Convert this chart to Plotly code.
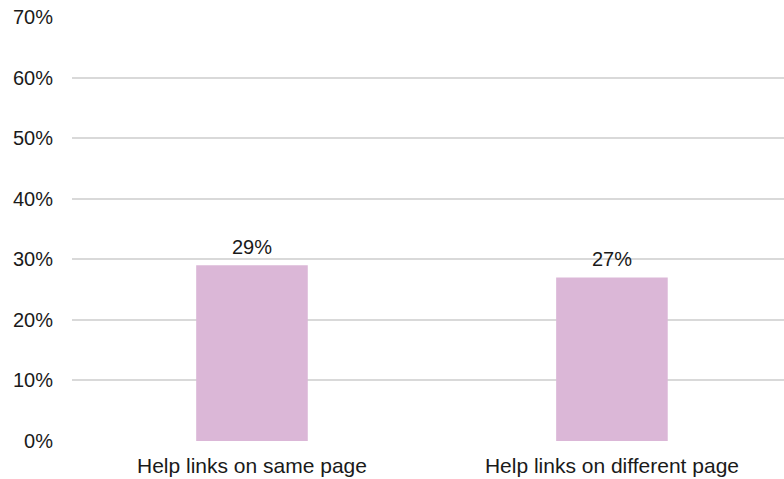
import plotly.graph_objects as go

# Share of participants by help-link placement
categories = ["Help links on same page", "Help links on different page"]
shares = [0.29, 0.27]
tick_values = [0, 0.1, 0.2, 0.3, 0.4, 0.5, 0.6, 0.7]
tick_labels = ["0%", "10%", "20%", "30%", "40%", "50%", "60%", "70%"]

font_family = "Liberation Sans, Arial, sans-serif"
text_color = "#1a1a1a"
positions = list(range(len(categories)))

fig = go.Figure(
    go.Bar(
        x=positions,
        y=shares,
        width=0.31,
        marker=dict(color="#DBB7D7", line=dict(width=0)),
        hoverinfo="skip",
    )
)

# Value labels above each bar, formatted from the bar's own value
for pos, value in zip(positions, shares):
    fig.add_annotation(
        x=pos,
        y=value,
        text=f"{value:.0%}",
        showarrow=False,
        yanchor="bottom",
        yshift=5,
        font=dict(family=font_family, size=20, color=text_color),
    )

fig.update_layout(
    width=784,
    height=479,
    margin=dict(l=72, r=0, t=17, b=38),
    paper_bgcolor="white",
    plot_bgcolor="white",
    showlegend=False,
    font=dict(family=font_family, size=20, color=text_color),
    xaxis=dict(
        tickmode="array",
        tickvals=positions,
        ticktext=categories,
        range=[-0.5, 1.478],
        showgrid=False,
        zeroline=False,
        showline=False,
        ticks="",
        ticklabelstandoff=10,
        tickfont=dict(family=font_family, size=21, color=text_color),
    ),
    yaxis=dict(
        range=[0, 0.7],
        tickmode="array",
        tickvals=tick_values,
        ticktext=tick_labels,
        showgrid=True,
        gridcolor="#D9D9D9",
        gridwidth=1.5,
        zeroline=False,
        showline=False,
        ticks="",
        ticklabelstandoff=18,
        tickfont=dict(family=font_family, size=20, color=text_color),
    ),
)

fig.write_html("out.html")
